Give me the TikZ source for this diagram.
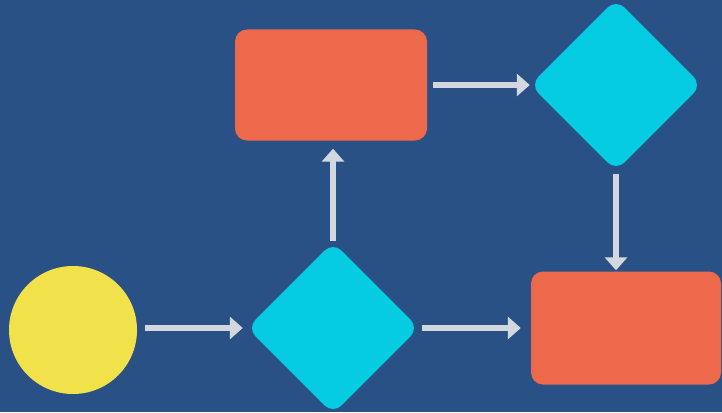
\documentclass[tikz,border=0pt]{standalone}
\usetikzlibrary{shapes.geometric,arrows.meta}
\definecolor{bg}{HTML}{2A5185}
\definecolor{orng}{HTML}{EE694B}
\definecolor{cyn}{HTML}{05CBE3}
\definecolor{yel}{HTML}{F1E24C}
\definecolor{arr}{HTML}{D3D7DF}
\tikzset{
  rbox/.style={rectangle, fill=orng, rounded corners=12pt, inner sep=0pt},
  dmd/.style={diamond, fill=cyn, rounded corners=12pt, inner sep=0pt, minimum width=172pt, minimum height=172pt},
  startc/.style={circle, fill=yel, inner sep=0pt, minimum size=128pt},
  flow/.style={draw=arr, line width=5.5pt, -{Triangle[length=13pt,width=22pt]}},
}
\begin{document}
\begin{tikzpicture}[x=1pt,y=-1pt]
\fill[bg] (0,0) rectangle (722,412);
\useasboundingbox (0,0) rectangle (722,412);
\node[startc] (c) at (73,330) {};
\node[dmd] (d1) at (333,328) {};
\node[dmd] (d2) at (616,85) {};
\node[rbox, minimum width=192pt, minimum height=111pt] (r1) at (331,85) {};
\node[rbox, minimum width=190pt, minimum height=113pt] (r2) at (626,328) {};
\draw[flow, shorten <=8pt, shorten >=4pt] (c.east |- d1) -- (d1);
\draw[flow, shorten <=3pt, shorten >=10pt] (d1) -- (r2);
\draw[flow, shorten <=1pt, shorten >=8pt] (d1) -- (d1 |- r1.south);
\draw[flow, shorten <=6pt, shorten >=0pt] (r1) -- (d2);
\draw[flow, shorten <=3pt, shorten >=1pt] (d2) -- (d2 |- r2.north);
\end{tikzpicture}
\end{document}
